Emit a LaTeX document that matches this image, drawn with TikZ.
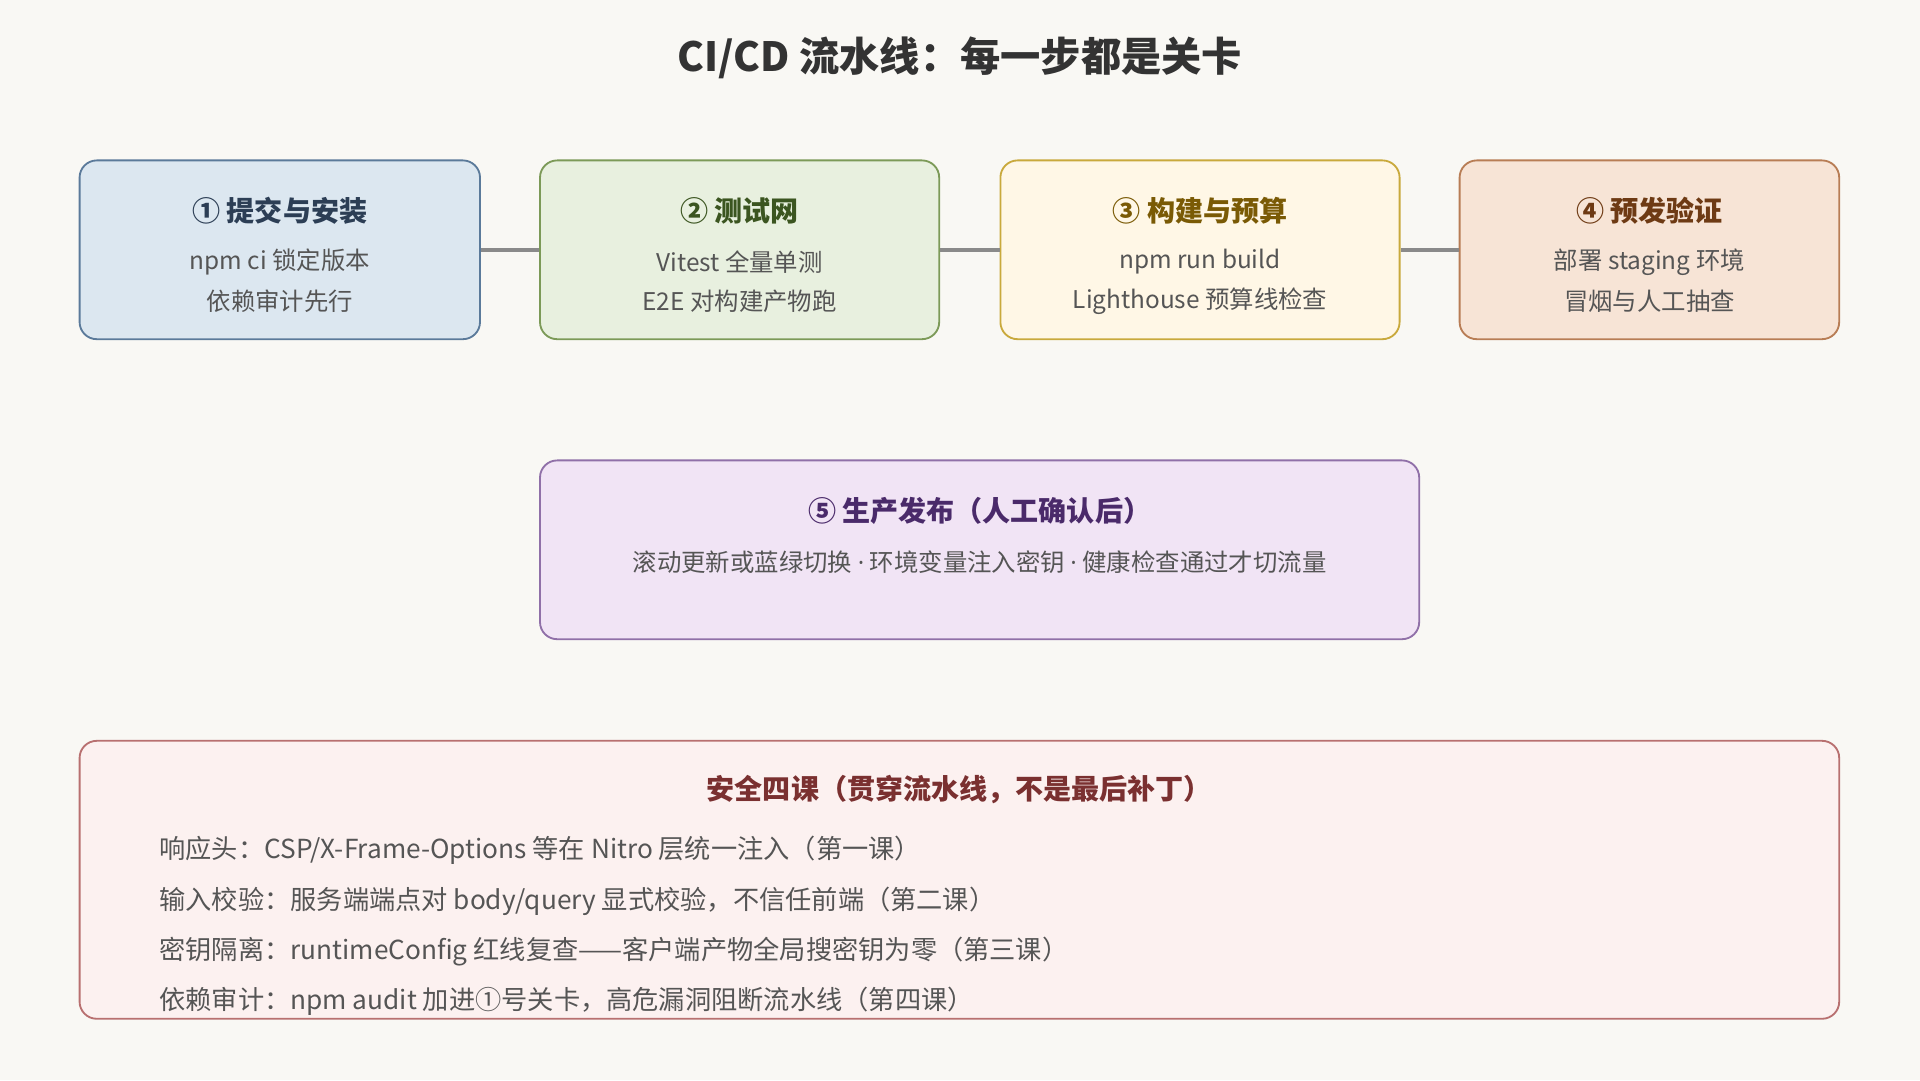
\documentclass[tikz,border=0pt]{standalone}
\usepackage{fontspec}
\setmainfont{Noto Sans CJK SC}
\newfontfamily\dotfont{Open Sans}
\usepackage{xcolor}
\usetikzlibrary{positioning}

\definecolor{bgcol}{HTML}{F9F8F4}
\definecolor{titlecol}{HTML}{333333}
\definecolor{bodycol}{HTML}{555555}
\definecolor{linkcol}{HTML}{8A8A8A}
% stage colours
\definecolor{commitfill}{HTML}{DCE7F0}\definecolor{commitdraw}{HTML}{5B7A9A}\definecolor{committext}{HTML}{2C3E55}
\definecolor{testfill}{HTML}{E8F0DF}\definecolor{testdraw}{HTML}{7C9A58}\definecolor{testtext}{HTML}{3B5520}
\definecolor{buildfill}{HTML}{FFF7E6}\definecolor{builddraw}{HTML}{C9A93C}\definecolor{buildtext}{HTML}{7A5A05}
\definecolor{stagefill}{HTML}{F7E4D6}\definecolor{stagedraw}{HTML}{B87D55}\definecolor{stagetext}{HTML}{6E3A14}
\definecolor{prodfill}{HTML}{F1E4F5}\definecolor{proddraw}{HTML}{9070A8}\definecolor{prodtext}{HTML}{4A2A6A}
\definecolor{secfill}{HTML}{FCF1F0}\definecolor{secdraw}{HTML}{B87070}\definecolor{sectext}{HTML}{7A3030}

\newcommand{\middot}{ {\dotfont\char"00B7} }

\tikzset{
  stagebox/.style={draw, rectangle, rounded corners=14bp, line width=1.5bp, minimum height=146bp, inner sep=0pt},
  headtext/.style={font=\fontsize{23}{27}\selectfont\bfseries},
  bodytext/.style={font=\fontsize{20}{24}\selectfont, text=bodycol},
  lessontext/.style={font=\fontsize{21.5}{26}\selectfont, text=bodycol, anchor=west, inner sep=0pt},
  link/.style={draw=linkcol, line width=3bp},
}

\begin{document}
\begin{tikzpicture}[x=1bp,y=-1bp]
  \fill[bgcol] (0,0) rectangle (1568,882);
  \useasboundingbox (0,0) rectangle (1568,882);
%%
  \node[font=\fontsize{33}{40}\selectfont\bfseries, text=titlecol] (title) at (784,47) {CI/CD 流水线：每一步都是关卡};
  % Node: commit
  \node[stagebox, fill=commitfill, draw=commitdraw, minimum width=327bp] (commit) at (228.5,204) {};
  \node[headtext, text=committext] (commithead) at (228.5,172) {① 提交与安装};
  \node[bodytext] (commitone) at (228.5,214) {npm ci 锁定版本};
  \node[bodytext] (committwo) at (228.5,246) {依赖审计先行};
  % Node: test
  \node[stagebox, fill=testfill, draw=testdraw, minimum width=326bp] (test) at (604,204) {};
  \node[headtext, text=testtext] (testhead) at (604,172) {② 测试网};
  \node[bodytext] (testone) at (604,214) {Vitest 全量单测};
  \node[bodytext] (testtwo) at (604,246) {E2E 对构建产物跑};
  % Node: build
  \node[stagebox, fill=buildfill, draw=builddraw, minimum width=326bp] (build) at (980,204) {};
  \node[headtext, text=buildtext] (buildhead) at (980,172) {③ 构建与预算};
  \node[bodytext] (buildone) at (980,214) {npm run build};
  \node[bodytext] (buildtwo) at (980,246) {Lighthouse 预算线检查};
  % Node: staging
  \node[stagebox, fill=stagefill, draw=stagedraw, minimum width=310bp] (staging) at (1347,204) {};
  \node[headtext, text=stagetext] (staginghead) at (1347,172) {④ 预发验证};
  \node[bodytext] (stagingone) at (1347,214) {部署 staging 环境};
  \node[bodytext] (stagingtwo) at (1347,246) {冒烟与人工抽查};
  % Edge: commit -> test -> build -> staging
  \draw[link] (commit.east) -- (test.west);
  \draw[link] (test.east) -- (build.west);
  \draw[link] (build.east) -- (staging.west);
  % Node: prod
  \node[stagebox, fill=prodfill, draw=proddraw, minimum width=718bp] (prod) at (800,449) {};
  \node[headtext, text=prodtext] (prodhead) at (800,417) {⑤ 生产发布（人工确认后）};
  \node[bodytext] (prodone) at (800,459) {滚动更新或蓝绿切换\middot 环境变量注入密钥\middot 健康检查通过才切流量};
  % Node: security
  \node[stagebox, fill=secfill, draw=secdraw, minimum width=1437bp, minimum height=227bp] (security) at (783.5,718.5) {};
  \node[headtext, text=sectext] (securityhead) at (783.5,645) {安全四课（贯穿流水线，不是最后补丁）};
  \node[lessontext] (lessonone) at (130,694) {响应头：CSP/X-Frame-Options 等在 Nitro 层统一注入（第一课）};
  \node[lessontext] (lessontwo) at (130,736) {输入校验：服务端端点对 body/query 显式校验，不信任前端（第二课）};
  \node[lessontext] (lessonthree) at (130,777) {密钥隔离：runtimeConfig 红线复查——客户端产物全局搜密钥为零（第三课）};
  \node[lessontext] (lessonfour) at (130,818) {依赖审计：npm audit 加进①号关卡，高危漏洞阻断流水线（第四课）};
%
\end{tikzpicture}
\end{document}
